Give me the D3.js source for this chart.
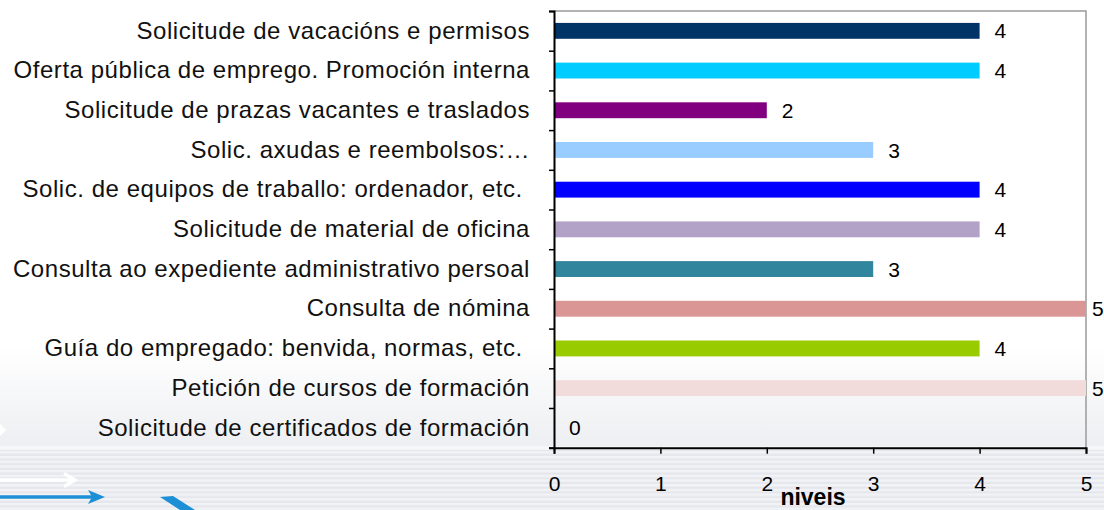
<!DOCTYPE html>
<html>
<head>
<meta charset="utf-8">
<script src="https://cdn.jsdelivr.net/npm/d3@7"></script>
<style>
  html, body { margin: 0; padding: 0; background: #ffffff; }
  svg { display: block; }
</style>
</head>
<body>
<svg id="chart" width="1104" height="510"></svg>
<script>
const categories = [
  "Solicitude de vacacións e permisos",
  "Oferta pública de emprego. Promoción interna",
  "Solicitude de prazas vacantes e traslados",
  "Solic. axudas e reembolsos:…",
  "Solic. de equipos de traballo: ordenador, etc. ",
  "Solicitude de material de oficina",
  "Consulta ao expediente administrativo persoal",
  "Consulta de nómina",
  "Guía do empregado: benvida, normas, etc. ",
  "Petición de cursos de formación",
  "Solicitude de certificados de formación"
];
const values = [4, 4, 2, 3, 4, 4, 3, 5, 4, 5, 0];
const barColors = ["#003366", "#00CCFF", "#800080", "#99CCFF", "#0000FF",
                   "#B3A2C7", "#31859C", "#D99694", "#99CC00", "#F2DCDB", "#C0C0C0"];
const xTicks = [0, 1, 2, 3, 4, 5];
const xTitle = "niveis";

const W = 1104, H = 510;
const plot = { left: 554, right: 1086, top: 11, bottom: 447.7 };
const FONT = "'Liberation Sans', Arial, sans-serif";

const svg = d3.select("#chart");
const defs = svg.append("defs");

// background gradient
const bg = defs.append("linearGradient").attr("id", "bgGrad")
  .attr("x1", 0).attr("y1", 0).attr("x2", 0).attr("y2", 1);
bg.append("stop").attr("offset", "0").attr("stop-color", "#ffffff");
bg.append("stop").attr("offset", "0.68").attr("stop-color", "#ffffff");
bg.append("stop").attr("offset", "0.87").attr("stop-color", "#eeeff2");
bg.append("stop").attr("offset", "1").attr("stop-color", "#e9ebef");
svg.append("rect").attr("width", W).attr("height", H).attr("fill", "url(#bgGrad)");

// stripes pattern
const pat = defs.append("pattern").attr("id", "stripes")
  .attr("patternUnits", "userSpaceOnUse").attr("width", 8).attr("height", 4.7);
pat.append("rect").attr("width", 8).attr("height", 4.7).attr("fill", "#f2f3f6");
pat.append("rect").attr("y", 2.4).attr("width", 8).attr("height", 2.3).attr("fill", "#e5e7ec");
svg.append("rect").attr("x", 0).attr("y", 446).attr("width", W).attr("height", H - 446)
  .attr("fill", "url(#stripes)");
svg.append("rect").attr("x", 0).attr("y", 446).attr("width", W).attr("height", 4)
  .attr("fill", "#f7f8fa").attr("opacity", 0.8);

// decorative arrows
const deco = svg.append("g");
deco.append("path").attr("d", "M0,424 L6,430 L0,436 Z").attr("fill", "#ffffff");
deco.append("line").attr("x1", 0).attr("x2", 72).attr("y1", 480).attr("y2", 480)
  .attr("stroke", "#ffffff").attr("stroke-width", 3.5);
deco.append("path").attr("d", "M64,473.5 L75,480 L64,486.5").attr("fill", "none")
  .attr("stroke", "#ffffff").attr("stroke-width", 3.5);
deco.append("line").attr("x1", 0).attr("x2", 100).attr("y1", 497).attr("y2", 497)
  .attr("stroke", "#1c8fd6").attr("stroke-width", 3.5);
deco.append("path").attr("d", "M88,490 L105,497 L88,504 L92,497 Z").attr("fill", "#1c8fd6");
deco.append("path").attr("d", "M160,497 L173,496 L195,510 L180,510 Z").attr("fill", "#1c8fd6");

// scales
const x = d3.scaleLinear().domain([0, 5]).range([plot.left, plot.right]);
const y = d3.scaleBand().domain(categories).range([plot.top, plot.bottom])
  .paddingInner(0.6).paddingOuter(0.3);
const yEdge = d3.scaleLinear().domain([0, categories.length]).range([plot.top, plot.bottom]);

// plot border (top & right)
svg.append("path")
  .attr("d", `M${plot.left},${plot.top} H${plot.right} V${plot.bottom}`)
  .attr("fill", "none").attr("stroke", "#9a9a9a").attr("stroke-width", 1.5);

// bars
const data = categories.map((c, i) => ({ c, v: values[i], col: barColors[i] }));
svg.append("g").selectAll("rect").data(data).join("rect")
  .attr("x", x(0))
  .attr("y", d => y(d.c))
  .attr("width", d => x(d.v) - x(0))
  .attr("height", y.bandwidth())
  .attr("fill", d => d.col);

// value labels
svg.append("g").selectAll("text").data(data).join("text")
  .attr("x", d => Math.min(x(d.v) + 15, W - 12))
  .attr("y", d => y(d.c) + y.bandwidth() / 2)
  .attr("dy", "0.36em")
  .attr("font-family", FONT).attr("font-size", 21).attr("fill", "#000")
  .text(d => d.v);

// left axis: boundary ticks
const leftTicks = svg.append("g").attr("transform", `translate(${plot.left},0)`)
  .call(d3.axisLeft(yEdge).tickValues(d3.range(categories.length + 1)).tickSize(5).tickFormat(""));
leftTicks.select(".domain").attr("stroke", "#000").attr("stroke-width", 2);
leftTicks.selectAll(".tick line").attr("stroke", "#000").attr("stroke-width", 1.5);

// left axis: category labels
const leftLabels = svg.append("g").attr("transform", `translate(${plot.left},0)`)
  .call(d3.axisLeft(y).tickSize(0).tickPadding(24));
leftLabels.select(".domain").remove();
leftLabels.selectAll("text")
  .attr("font-family", FONT).attr("font-size", 24).attr("letter-spacing", "0.55px")
  .attr("fill", "#111").style("white-space", "pre");

// bottom axis
const bottom = svg.append("g").attr("transform", `translate(0,${plot.bottom})`)
  .call(d3.axisBottom(x).tickValues(xTicks).tickSize(6).tickPadding(22).tickFormat(d3.format("d")));
bottom.select(".domain").attr("stroke", "#000").attr("stroke-width", 2);
bottom.selectAll(".tick line").attr("stroke", "#000").attr("stroke-width", 1.5);
bottom.selectAll("text").attr("font-family", FONT).attr("font-size", 21).attr("fill", "#000");

// axis title
svg.append("text")
  .attr("x", (plot.left + plot.right) / 2 - 7)
  .attr("y", 505)
  .attr("text-anchor", "middle")
  .attr("font-family", FONT).attr("font-size", 23).attr("font-weight", "bold")
  .attr("fill", "#000")
  .text(xTitle);
</script>
</body>
</html>
